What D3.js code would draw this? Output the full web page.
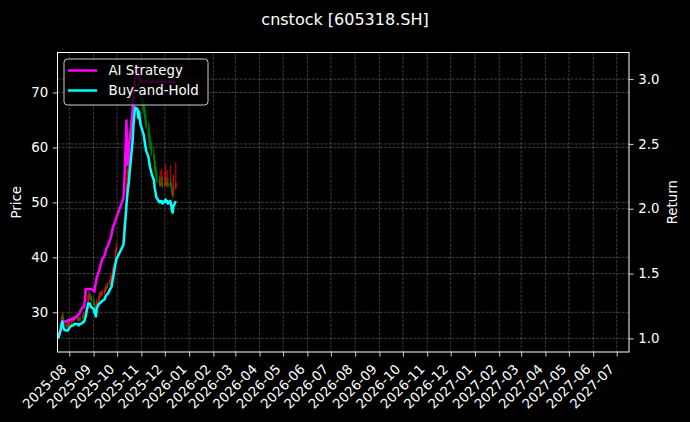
<!DOCTYPE html>
<html>
<head>
<meta charset="utf-8">
<script src="https://cdn.jsdelivr.net/npm/d3@7"></script>
<style>
  html, body { margin: 0; padding: 0; background: #000; }
  svg { display: block; font-family: "DejaVu Sans", sans-serif; }
</style>
</head>
<body>
<svg id="chart" width="690" height="422"></svg>
<script>
// ---------------- DATA ----------------
const title = "cnstock [605318.SH]";
const dates = [
  "2025-07-18","2025-07-21","2025-07-22","2025-07-23","2025-07-24","2025-07-25","2025-07-28","2025-07-29","2025-07-30","2025-07-31",
  "2025-08-01","2025-08-04","2025-08-05","2025-08-06","2025-08-07","2025-08-08","2025-08-11","2025-08-12","2025-08-13","2025-08-14",
  "2025-08-15","2025-08-18","2025-08-19","2025-08-20","2025-08-21","2025-08-22","2025-08-25","2025-08-26","2025-08-27","2025-08-28",
  "2025-08-29","2025-09-01","2025-09-02","2025-09-03","2025-09-04","2025-09-05","2025-09-08","2025-09-09","2025-09-10","2025-09-11",
  "2025-09-12","2025-09-15","2025-09-16","2025-09-17","2025-09-18","2025-09-19","2025-09-22","2025-09-23","2025-09-24","2025-09-25",
  "2025-09-26","2025-09-29","2025-09-30","2025-10-09","2025-10-10","2025-10-13","2025-10-14","2025-10-15","2025-10-16","2025-10-17",
  "2025-10-20","2025-10-21","2025-10-22","2025-10-23","2025-10-24","2025-10-27","2025-10-28","2025-10-29","2025-10-30","2025-10-31",
  "2025-11-03","2025-11-04","2025-11-05","2025-11-06","2025-11-07","2025-11-10","2025-11-11","2025-11-12","2025-11-13","2025-11-14",
  "2025-11-17","2025-11-18","2025-11-19","2025-11-20","2025-11-21","2025-11-24","2025-11-25","2025-11-26","2025-11-27","2025-11-28",
  "2025-12-01","2025-12-02","2025-12-03","2025-12-04","2025-12-05","2025-12-08","2025-12-09","2025-12-10","2025-12-11","2025-12-12",
  "2025-12-15"
];
const open = [
  25.60,26.10,27.90,28.70,29.40,28.50,27.90,27.40,27.70,27.50,
  27.80,28.10,28.70,28.50,28.60,28.90,28.80,28.90,28.80,28.60,
  28.90,28.90,29.10,29.40,29.40,29.90,30.60,33.10,32.90,33.00,
  32.50,32.20,31.90,31.10,30.90,30.50,32.00,33.10,33.00,33.30,
  33.30,33.50,33.80,34.30,34.60,34.90,34.90,35.90,36.10,36.40,
  37.50,38.40,41.20,43.00,44.90,47.00,52.60,54.80,56.00,57.40,
  59.80,64.60,66.00,69.20,71.00,72.60,71.80,70.10,71.60,70.00,
  68.80,67.50,66.90,65.80,64.90,63.60,62.50,61.20,60.10,59.90,
  58.90,57.60,56.00,55.30,54.10,54.00,53.20,53.60,53.30,53.50,
  53.00,53.60,53.80,53.20,53.50,53.00,53.50,52.70,51.80,51.30,
  52.60
];
const high = [
  26.40,28.20,29.20,30.10,29.80,28.90,28.30,28.10,28.00,28.30,
  28.60,29.00,29.30,29.00,29.40,29.50,29.30,29.60,29.10,29.20,
  29.40,29.50,29.80,29.90,30.30,31.00,33.40,34.00,33.80,33.40,
  33.00,32.70,32.20,31.60,31.40,32.40,33.50,33.70,33.90,33.80,
  34.10,34.30,34.80,35.10,35.40,35.50,36.40,36.70,37.00,38.00,
  38.90,41.50,42.80,45.60,47.20,53.50,56.00,57.50,58.40,60.50,
  65.20,67.40,70.30,72.60,74.80,74.50,73.20,72.80,72.40,71.10,
  69.60,68.70,67.80,66.90,66.10,64.60,64.20,62.60,61.90,61.00,
  60.20,58.80,57.40,56.50,55.80,54.80,55.70,54.60,56.10,54.70,
  55.40,57.00,54.60,55.90,54.50,56.80,54.30,53.40,52.80,55.00,
  57.30
];
const low = [
  25.25,26.00,27.60,28.40,28.30,27.50,27.20,27.10,27.20,27.30,
  27.60,27.90,28.20,28.20,28.40,28.50,28.40,28.50,28.30,28.40,
  28.50,28.70,28.90,29.00,29.20,29.70,30.50,32.40,32.30,32.10,
  31.80,31.60,30.90,30.50,30.10,30.30,31.80,32.60,32.80,32.90,
  33.00,33.20,33.60,34.00,34.30,34.40,34.70,35.50,35.80,36.20,
  37.20,38.20,40.70,42.60,44.30,46.80,51.80,53.90,55.20,56.90,
  59.30,63.80,65.50,68.40,70.20,70.90,69.40,69.70,69.20,68.20,
  66.80,66.20,65.20,64.20,63.30,61.90,60.90,59.80,59.40,58.50,
  57.20,55.60,54.90,53.80,53.50,52.90,52.80,52.90,53.00,52.60,
  52.80,53.20,52.90,52.90,52.60,52.80,52.40,51.30,50.80,51.00,
  52.30
];
const close = [
  26.00,27.82,28.60,29.38,28.60,27.82,27.56,27.56,27.56,27.82,
  28.08,28.60,28.60,28.60,28.86,28.86,28.86,28.86,28.60,28.86,
  28.86,29.12,29.38,29.38,29.90,30.42,33.02,33.02,33.02,32.50,
  32.24,31.98,31.20,30.94,30.42,31.98,33.02,33.02,33.28,33.28,
  33.54,33.80,34.32,34.58,34.84,34.84,35.88,36.14,36.40,37.44,
  38.22,41.08,41.86,44.72,46.28,52.78,54.60,56.16,57.20,59.28,
  64.22,65.78,68.90,70.72,72.28,72.02,70.20,71.50,69.94,68.90,
  67.34,66.82,65.78,64.74,63.70,62.40,61.36,60.32,59.80,59.02,
  57.72,56.16,55.38,54.34,54.08,53.30,53.56,53.30,53.56,53.04,
  53.56,53.82,53.30,53.56,53.04,53.56,52.78,51.74,51.22,52.52,
  53.56
];
const aiStrategy = [
  1.00,1.07,1.10,1.13,1.13,1.13,1.13,1.13,1.14,1.14,
  1.14,1.15,1.15,1.15,1.15,1.16,1.17,1.18,1.19,1.19,
  1.21,1.24,1.24,1.25,1.30,1.38,1.38,1.38,1.38,1.38,
  1.38,1.37,1.36,1.40,1.43,1.47,1.52,1.55,1.57,1.59,
  1.61,1.64,1.66,1.69,1.70,1.71,1.76,1.78,1.80,1.84,
  1.86,1.91,1.93,2.08,2.16,2.68,2.34,2.37,2.45,2.53,
  2.70,2.78,2.85,2.92,3.00,3.10,3.06,3.04,3.00,2.98,
  2.98,2.98,2.98,2.98,2.98,2.98,2.98,2.98,2.98,2.98,
  2.98,2.98,2.98,2.98,2.98,2.98,2.98,2.98,2.98,2.98,
  2.98,2.98,2.98,2.98,2.98,2.98,2.98,2.98,2.98,2.98,
  2.98
];
const buyAndHold = [
  1.00,1.07,1.10,1.13,1.10,1.07,1.06,1.06,1.06,1.07,
  1.08,1.10,1.10,1.10,1.11,1.11,1.11,1.11,1.10,1.11,
  1.11,1.12,1.13,1.13,1.15,1.17,1.27,1.27,1.27,1.25,
  1.24,1.23,1.20,1.19,1.17,1.23,1.27,1.27,1.28,1.28,
  1.29,1.30,1.32,1.33,1.34,1.34,1.38,1.39,1.40,1.44,
  1.47,1.58,1.61,1.72,1.78,2.03,2.10,2.16,2.20,2.28,
  2.47,2.53,2.65,2.72,2.78,2.77,2.70,2.75,2.69,2.65,
  2.59,2.57,2.53,2.49,2.45,2.40,2.36,2.32,2.30,2.27,
  2.22,2.16,2.13,2.09,2.08,2.05,2.06,2.05,2.06,2.04,
  2.06,2.07,2.05,2.06,2.04,2.06,2.03,1.99,1.97,2.02,
  2.06
];
const priceTicks = [30, 40, 50, 60, 70];
const returnTicks = [1.0, 1.5, 2.0, 2.5, 3.0];
const xStart = "2025-07-16T22:00";   // axis limits
const xEnd = "2027-07-16T17:00";
const seriesNames = ["AI Strategy", "Buy-and-Hold"];
const seriesColors = ["#ff00ff", "#00ffff"];

// ---------------- CHART ----------------
const svg = d3.select("#chart");
const W = 690, H = 422;
const L = 57.5, R = 629, T = 52.5, B = 352;
const FS = 13.33;
const tickLen = 4.67, tickPad = 4.67;

svg.append("rect").attr("width", W).attr("height", H).attr("fill", "#000");

const parse = d3.utcParse("%Y-%m-%d");
const parseT = d3.utcParse("%Y-%m-%dT%H:%M");
const dts = dates.map(parse);

const x = d3.scaleUtc().domain([parseT(xStart), parseT(xEnd)]).range([L, R]);

function padded(lo, hi) { const r = hi - lo; return [lo - 0.05 * r, hi + 0.05 * r]; }
const yP = d3.scaleLinear().domain(padded(d3.min(low), d3.max(high))).range([B, T]);
const allRet = aiStrategy.concat(buyAndHold);
const yR = d3.scaleLinear().domain(padded(d3.min(allRet), d3.max(allRet))).range([B, T]);

const monthTicks = d3.utcMonths(parse("2025-08-01"), parse("2027-08-01"));

// grid
const grid = svg.append("g").attr("stroke", "rgba(255,255,255,0.3)").attr("stroke-width", 0.8)
  .attr("stroke-dasharray", "2.96,1.28").attr("fill", "none");
monthTicks.forEach(d => grid.append("line").attr("x1", x(d)).attr("x2", x(d)).attr("y1", T).attr("y2", B));
priceTicks.forEach(v => grid.append("line").attr("x1", L).attr("x2", R).attr("y1", yP(v)).attr("y2", yP(v)));
returnTicks.forEach(v => grid.append("line").attr("x1", L).attr("x2", R).attr("y1", yR(v)).attr("y2", yR(v)));

// candles
const candles = svg.append("g");
const dayPx = x(parse("2025-08-02")) - x(parse("2025-08-01"));
const bw = Math.max(1.4, dayPx * 0.8);
dts.forEach((d, i) => {
  const up = close[i] >= open[i];
  const col = up ? "#ff0000" : "#008000";
  const cx = x(d);
  candles.append("line").attr("x1", cx).attr("x2", cx)
    .attr("y1", yP(high[i])).attr("y2", yP(low[i]))
    .attr("stroke", col).attr("stroke-width", 0.9);
  const y0 = yP(Math.max(open[i], close[i])), y1 = yP(Math.min(open[i], close[i]));
  candles.append("rect").attr("x", cx - bw / 2).attr("width", bw)
    .attr("y", y0).attr("height", Math.max(0.8, y1 - y0)).attr("fill", col);
});

// return lines
const lineGen = arr => d3.line().x((d, i) => x(dts[i])).y(d => yR(d))(arr);
[aiStrategy, buyAndHold].forEach((arr, k) => {
  svg.append("path").attr("d", lineGen(arr)).attr("fill", "none")
    .attr("stroke", seriesColors[k]).attr("stroke-width", 2.5)
    .attr("stroke-linejoin", "round").attr("stroke-linecap", "butt");
});

// axes
function styleAxis(g) {
  g.selectAll("path").remove();
  g.selectAll("line").attr("stroke", "#fff").attr("stroke-width", 0.8);
  g.selectAll("text").attr("fill", "#fff").style("font-size", FS + "px")
    .style("font-family", "DejaVu Sans, sans-serif");
}
const gL = svg.append("g").attr("transform", `translate(${L},0)`)
  .call(d3.axisLeft(yP).tickValues(priceTicks).tickSize(tickLen).tickPadding(tickPad).tickFormat(d3.format("d")));
styleAxis(gL);
const gR = svg.append("g").attr("transform", `translate(${R},0)`)
  .call(d3.axisRight(yR).tickValues(returnTicks).tickSize(tickLen).tickPadding(tickPad).tickFormat(d3.format(".1f")));
styleAxis(gR);
const gB = svg.append("g").attr("transform", `translate(0,${B})`)
  .call(d3.axisBottom(x).tickValues(monthTicks).tickSize(tickLen).tickFormat(d3.utcFormat("%Y-%m")));
styleAxis(gB);
gB.selectAll("text")
  .attr("text-anchor", "end")
  .attr("dy", null).attr("y", null)
  .attr("transform", "translate(-2.2,18) rotate(-45)");

// spines
svg.append("rect").attr("x", L).attr("y", T).attr("width", R - L).attr("height", B - T)
  .attr("fill", "none").attr("stroke", "#fff").attr("stroke-width", 1);

// axis labels
svg.append("text").attr("transform", `translate(21,${(T + B) / 2}) rotate(-90)`)
  .attr("text-anchor", "middle").attr("fill", "#fff").style("font-size", FS + "px").text("Price");
svg.append("text").attr("transform", `translate(676.5,${(T + B) / 2}) rotate(-90)`)
  .attr("text-anchor", "middle").attr("fill", "#fff").style("font-size", FS + "px").text("Return");

// title
svg.append("text").attr("x", 345).attr("y", 25).attr("text-anchor", "middle")
  .attr("fill", "#fff").style("font-size", "16px").text(title);

// legend
const lg = svg.append("g");
lg.append("rect").attr("x", 64).attr("y", 59).attr("width", 144).attr("height", 46)
  .attr("rx", 3.5).attr("fill", "rgba(0,0,0,0.8)").attr("stroke", "#cccccc").attr("stroke-width", 1);
seriesNames.forEach((name, k) => {
  const cy = 70.5 + k * 20;
  lg.append("line").attr("x1", 68).attr("x2", 97).attr("y1", cy).attr("y2", cy)
    .attr("stroke", seriesColors[k]).attr("stroke-width", 2.5);
  lg.append("text").attr("x", 108.5).attr("y", cy + 4.7).attr("fill", "#fff")
    .style("font-size", FS + "px").text(name);
});
</script>
</body>
</html>
